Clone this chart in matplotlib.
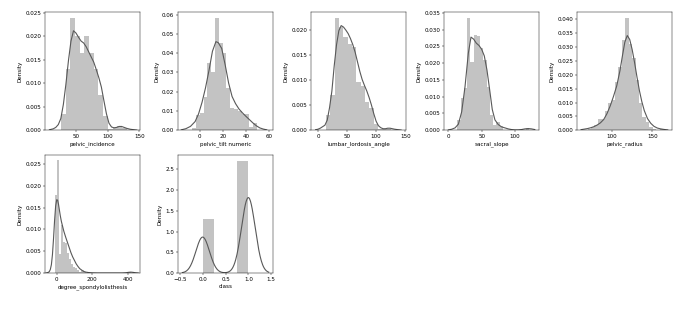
import numpy as np
import matplotlib
matplotlib.use("Agg")
import matplotlib.pyplot as plt
import seaborn as sns

# ---------------- data ----------------
# pelvic_incidence
pi_range = (26.15, 129.83)
pi_hist = [0.0035, 0.013, 0.024, 0.020, 0.0165, 0.020, 0.0165, 0.013, 0.0075,
           0.003, 0.0003, 0.0006, 0.0009, 0.0004]
pi_kde_x = [8, 14, 18, 22, 26, 30, 34, 38, 42, 46, 50, 54, 58, 62, 66, 70, 74, 78,
            82, 86, 90, 94, 98, 102, 106, 110, 114, 118, 122, 126, 130, 136, 142, 146]
pi_kde_y = [0.0001, 0.0003, 0.0006, 0.0012, 0.0025, 0.0055, 0.0098, 0.0148, 0.019,
            0.0212, 0.0207, 0.0198, 0.019, 0.0186, 0.0178, 0.0167, 0.0156, 0.0145,
            0.0129, 0.0112, 0.0092, 0.0063, 0.0035, 0.0015, 0.0007, 0.0005, 0.0006,
            0.0008, 0.0008, 0.0006, 0.0004, 0.0002, 0.0001, 0.00003]

# pelvic_tilt numeric
pt_range = (-6.55, 49.43)
pt_hist = [0.001, 0.008, 0.009, 0.017, 0.035, 0.030, 0.0585, 0.0455, 0.040, 0.022,
           0.0115, 0.011, 0.010, 0.0085, 0.0085, 0.0015, 0.004]
pt_kde_x = [-16, -12, -8, -4, -1, 2, 5, 8, 11, 14, 16, 19, 22, 25, 28, 31, 34, 37,
            40, 43, 46, 49, 52, 55, 58]
pt_kde_y = [0.0002, 0.0008, 0.002, 0.0045, 0.0085, 0.0145, 0.022, 0.031, 0.041,
            0.046, 0.0455, 0.0425, 0.034, 0.0245, 0.0175, 0.0138, 0.011, 0.009,
            0.0072, 0.0055, 0.0038, 0.0023, 0.0012, 0.0006, 0.0002]

# lumbar_lordosis_angle
ll_range = (14.0, 125.74)
ll_hist = [0.003, 0.007, 0.0224, 0.0205, 0.0185, 0.0172, 0.0165, 0.0095, 0.0087,
           0.0057, 0.0045, 0.0012, 0.0002, 0.0003, 0.0003]
ll_kde_x = [-4, 0, 4, 8, 12, 16, 20, 24, 28, 32, 36, 40, 44, 48, 52, 56, 60, 64, 68,
            72, 76, 80, 84, 88, 92, 96, 100, 104, 108, 112, 116, 120, 124, 128, 132,
            138, 143]
ll_kde_y = [0.0001, 0.0002, 0.0004, 0.0007, 0.001, 0.002, 0.0045, 0.0078, 0.0128,
            0.017, 0.0198, 0.0208, 0.0205, 0.0199, 0.0192, 0.0182, 0.017, 0.0155,
            0.0136, 0.0117, 0.0101, 0.0089, 0.0078, 0.0065, 0.005, 0.0033, 0.0018,
            0.0009, 0.0005, 0.0003, 0.0003, 0.0004, 0.0004, 0.0003, 0.0002, 0.0001,
            0.00003]

# sacral_slope
ss_range = (13.37, 121.43)
ss_hist = [0.003, 0.0095, 0.0125, 0.0336, 0.0205, 0.0285, 0.0282, 0.0245, 0.021,
           0.013, 0.0045, 0.0015, 0.0025, 0.0012, 0.0, 0.0, 0.0, 0.0, 0.0, 0.0, 0.0,
           0.0006]
ss_kde_x = [0, 5, 10, 15, 20, 25, 30, 34, 38, 42, 46, 50, 54, 58, 62, 66, 70, 75, 80,
            85, 90, 95, 100, 105, 110, 115, 120, 125, 130]
ss_kde_y = [0.0001, 0.0003, 0.0007, 0.0018, 0.0055, 0.013, 0.023, 0.0278, 0.0272,
            0.026, 0.0253, 0.0242, 0.0222, 0.018, 0.0122, 0.0062, 0.0031, 0.0017,
            0.001, 0.0007, 0.0004, 0.0002, 0.0001, 0.0001, 0.0002, 0.0004, 0.0005,
            0.0004, 0.0002]

# pelvic_radius
pr_range = (70.08, 163.07)
pr_hist = [0.0005, 0.001, 0.0018, 0.0042, 0.004, 0.007, 0.0098, 0.011, 0.0175, 0.023,
           0.0325, 0.0407, 0.031, 0.026, 0.018, 0.0098, 0.0046, 0.0028, 0.0011,
           0.0005, 0.0002, 0.0003]
pr_kde_x = [62, 66, 70, 74, 78, 82, 86, 90, 94, 98, 102, 106, 110, 113, 116, 119, 122,
            125, 128, 131, 134, 137, 140, 144, 148, 152, 156, 160, 164, 169]
pr_kde_y = [0.0002, 0.0004, 0.0006, 0.0009, 0.0013, 0.0019, 0.0027, 0.0039, 0.006,
            0.0088, 0.0122, 0.016, 0.0215, 0.0268, 0.0318, 0.0342, 0.0328, 0.0292,
            0.0245, 0.0192, 0.0143, 0.0103, 0.0071, 0.0042, 0.0025, 0.0014, 0.0008,
            0.0005, 0.0003, 0.0001]

# degree_spondylolisthesis
ds_range = (-11.06, 418.54)
ds_hist = [0.0178, 0.0258, 0.0044, 0.011, 0.0072, 0.0068, 0.0045, 0.0033, 0.0021,
           0.0014, 0.0011, 0.0008, 0.0003, 0.0006, 0.0003, 0.0, 0.0003,
           0, 0, 0, 0, 0, 0, 0, 0, 0, 0, 0, 0, 0, 0, 0, 0, 0, 0, 0,
           0.00028]
ds_kde_x = [-60, -50, -42, -36, -30, -24, -18, -12, -6, 0, 5, 10, 15, 20, 26, 32, 40,
            50, 60, 70, 80, 90, 100, 110, 120, 130, 140, 150, 165, 180, 200, 230, 300,
            370, 390, 405, 418, 430, 445, 460]
ds_kde_y = [0.0, 0.0001, 0.0003, 0.0008, 0.0019, 0.0042, 0.0078, 0.012, 0.0153,
            0.0168, 0.0167, 0.0158, 0.0145, 0.0132, 0.0119, 0.0109, 0.0096, 0.0083,
            0.0071, 0.0059, 0.0047, 0.0037, 0.0029, 0.0021, 0.0015, 0.001, 0.0007,
            0.0004, 0.0002, 0.0001, 0.00003, 0.0, 0.0, 0.0, 0.00005, 0.00015,
            0.0002, 0.00015, 0.00005, 0.0]

# class (0 = Normal, 1 = Abnormal)
class_values = [0, 1]
class_counts = [100, 210]

labels = ["pelvic_incidence", "pelvic_tilt numeric", "lumbar_lordosis_angle",
          "sacral_slope", "pelvic_radius", "degree_spondylolisthesis", "class"]

# ---------------- drawing ----------------
W, H = 685, 325
scale = W / 17.0
fig, axes = plt.subplots(2, 5, figsize=(17, H / scale), dpi=scale)
fig.subplots_adjust(left=45 / W, right=672 / W, bottom=1 - 273 / H,
                    top=1 - 12 / H, wspace=0.4, hspace=0.2076)
axs = axes.ravel()

BAR = "dimgray"
LINE = "#595959"
LW = 2.0

panels = [
    (pi_range, pi_hist, pi_kde_x, pi_kde_y, (1, 151), 0.0252, None),
    (pt_range, pt_hist, pt_kde_x, pt_kde_y, (-18.8, 63.4), 0.0614, None),
    (ll_range, ll_hist, ll_kde_x, ll_kde_y, (-11.9, 151.4), 0.0235, None),
    (ss_range, ss_hist, ss_kde_x, ss_kde_y, (-6.6, 136.3), 0.0353, None),
    (pr_range, pr_hist, pr_kde_x, pr_kde_y, (57, 174.2), 0.0427, [100, 150]),
    (ds_range, ds_hist, ds_kde_x, ds_kde_y, (-66, 470), 0.0271, None),
]

for ax, (rng, hist, kx, ky, xl, ytop, xt), lab in zip(axs, panels, labels):
    edges = np.linspace(rng[0], rng[1], len(hist) + 1)
    ax.bar(edges[:-1], hist, width=np.diff(edges), align="edge",
           color=BAR, alpha=0.4, linewidth=0)
    ax.plot(kx, ky, color=LINE, lw=LW)
    if xt is not None:
        ax.set_xticks(xt)
    ax.set_xlim(*xl)
    ax.set_ylim(0, ytop)
    ax.set_xlabel(lab)
    ax.set_ylabel("Density")

# class panel, from the class counts
ax = axs[6]
class_data = np.repeat(class_values, class_counts).astype(float)
ax.hist(class_data, bins=4, density=True, color=BAR, alpha=0.4, linewidth=0)
sns.kdeplot(x=class_data, ax=ax, color=LINE, lw=LW, cut=3)
ax.set_xlim(-0.54, 1.54)
ax.set_ylim(0, 2.85)
ax.set_xlabel("class")
ax.set_ylabel("Density")

for a in axs[7:]:
    fig.delaxes(a)

fig.savefig("out.png", dpi=scale)
